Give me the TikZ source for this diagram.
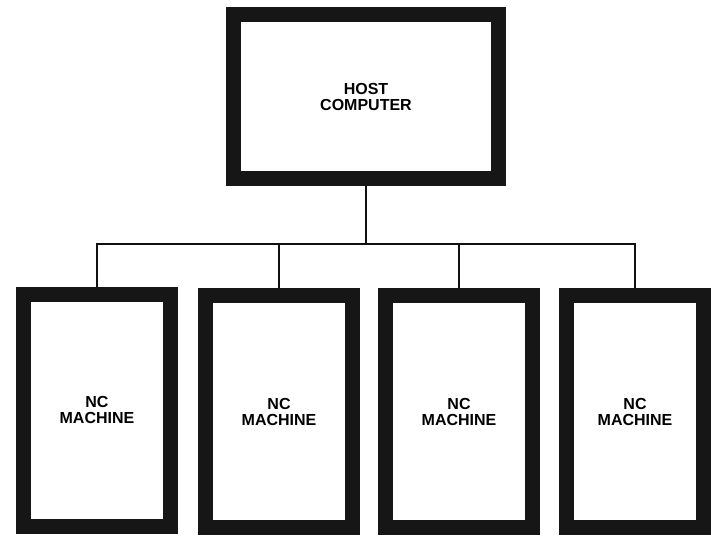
\documentclass[tikz,border=0pt]{standalone}
\usepackage{fontspec}
\setmainfont{Liberation Sans}
\usetikzlibrary{positioning}

\definecolor{frameInk}{HTML}{161616}
\definecolor{wireInk}{HTML}{111111}

\tikzset{
  unitbox/.style={draw=frameInk,line width=15pt,fill=white,inner sep=0pt,
    align=center,font=\bfseries\fontsize{16}{16}\selectfont},
  hostbox/.style={unitbox,minimum width=265pt,minimum height=164pt},
  machbox/.style={unitbox,minimum width=147pt,minimum height=232pt},
  wire/.style={draw=wireInk,line width=2.2pt}
}

\begin{document}
\begin{tikzpicture}[x=1pt,y=-1pt]

  \useasboundingbox (0,0) rectangle (711,537);

  % Host
  \node[hostbox] (host) at (366,96.5) {HOST\\COMPUTER};

  % Machines
  \node[machbox] (m1) at (97,410) {NC\\MACHINE};
  \node[machbox] (m2) at (279,411.5) {NC\\MACHINE};
  \node[machbox] (m3) at (459,411.5) {NC\\MACHINE};
  \node[machbox,minimum width=137pt] (m4) at (635,411.5) {NC\\MACHINE};

  % Bus
  \coordinate (bus) at (366,244);
  \draw[wire] (host.south) -- (bus);
  \foreach \m in {m1,m2,m3,m4} {
    \draw[wire] (bus) -| (\m.north);
  }

\end{tikzpicture}
\end{document}
